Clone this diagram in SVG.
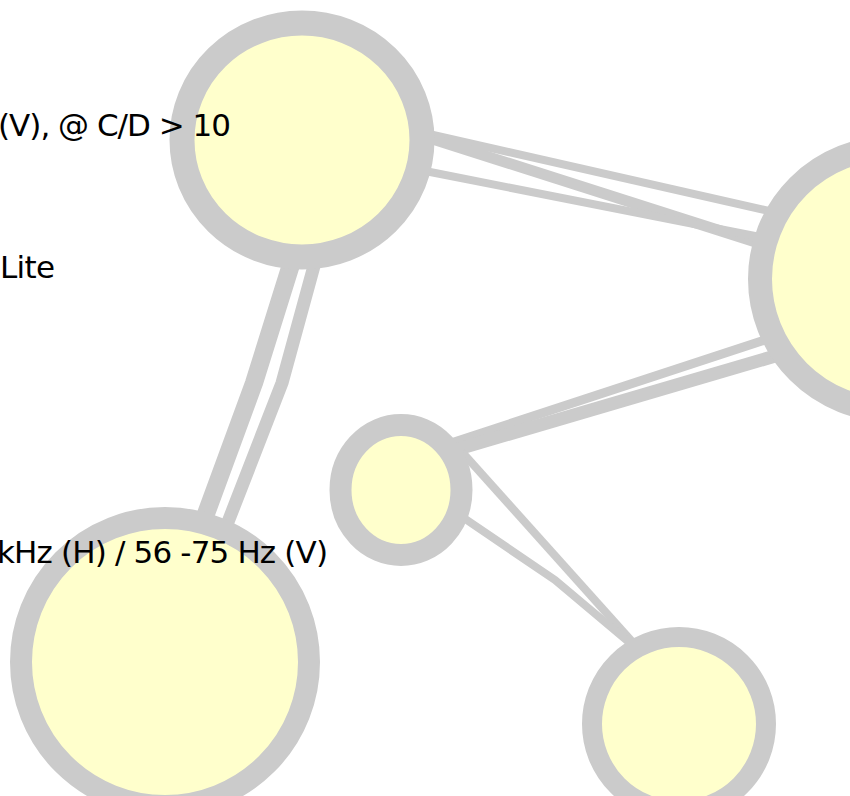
<svg xmlns="http://www.w3.org/2000/svg" width="850" height="796" viewBox="0 0 850 796">
<style>
.ring{fill:#ffffcc;stroke:#cbcbcb}
.edge{fill:none;stroke:#cbcbcb;stroke-linecap:butt;stroke-linejoin:round}
.lbl{font-family:"DejaVu Sans","Liberation Sans",sans-serif;font-size:31px;fill:#000}
</style>
<rect width="850" height="796" fill="#ffffff"/>
<g id="connectors">
<path class="edge" d="M420,132 L778,213" stroke-width="8"/>
<path class="edge" d="M420,135 L765,245" stroke-width="11"/>
<path class="edge" d="M420,170 L760,237" stroke-width="8"/>
<path class="edge" d="M294,255 L254,383 L203,522" stroke-width="18"/>
<path class="edge" d="M317,255 L282,383 L228,522" stroke-width="13"/>
<path class="edge" d="M448,444 L780,335" stroke-width="9"/>
<path class="edge" d="M448,452 L782,354" stroke-width="13"/>
<path class="edge" d="M462,452 L645,656" stroke-width="8"/>
<path class="edge" d="M455,512 L555,580 L643,654" stroke-width="8"/>
</g>
<g id="node-top"><ellipse class="ring" cx="302" cy="140" rx="120" ry="117" stroke-width="25"/></g>
<g id="node-right"><circle class="ring" cx="891" cy="279" r="131" stroke-width="24"/></g>
<g id="node-small"><ellipse class="ring" cx="401" cy="490" rx="60.5" ry="65" stroke-width="22"/></g>
<g id="node-bottom-left"><circle class="ring" cx="165" cy="662" r="144" stroke-width="22"/></g>
<g id="node-bottom-right"><circle class="ring" cx="679" cy="724" r="87" stroke-width="20"/></g>
<g id="labels">
<text class="lbl" x="-2" y="136" textLength="233" lengthAdjust="spacing">(V), @ C/D &gt; 10</text>
<text class="lbl" x="0" y="278" textLength="55" lengthAdjust="spacing">Lite</text>
<text class="lbl" x="-3" y="563" textLength="331" lengthAdjust="spacing">kHz (H) / 56 -75 Hz (V)</text>
</g>
</svg>
